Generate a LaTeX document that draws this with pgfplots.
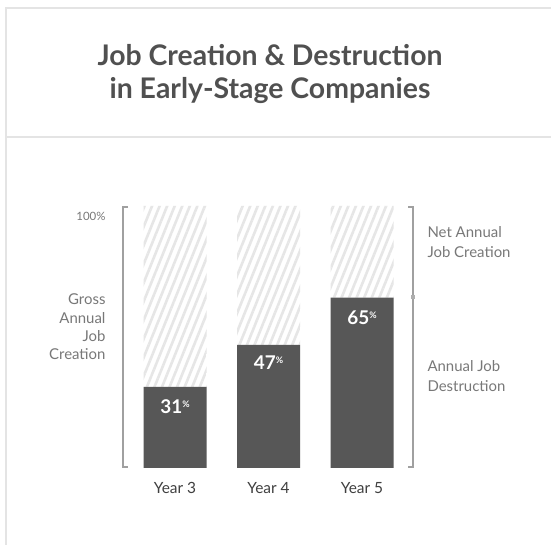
\documentclass[border=0pt]{standalone}
\usepackage{pgfplots}
\pgfplotsset{compat=1.18}
\usepackage{fontspec}
\setmainfont{Lato}
\usetikzlibrary{patterns.meta}
\definecolor{barc}{HTML}{575757}
\definecolor{hatchc}{HTML}{E6E6E6}
\definecolor{framec}{HTML}{E4E4E4}
\definecolor{titlec}{HTML}{505050}
\definecolor{labc}{HTML}{787878}
\definecolor{yearc}{HTML}{404040}
\begin{document}
\begin{tikzpicture}[x=1bp,y=1bp]
\fill[white] (0,0) rectangle (551,545);
\useasboundingbox (0,0) rectangle (551,545);
% frame
\draw[framec, line width=2bp] (6,0) -- (6,537) -- (551,537);
\draw[framec, line width=2bp] (6,408) -- (551,408);
% title
\node[text=titlec, align=center, font=\fontsize{28.5}{33}\selectfont\bfseries] at (270,471) {Job Creation \& Destruction\\in Early-Stage Companies};

\begin{axis}[
  at={(128.25bp,77bp)}, anchor=south west,
  scale only axis, width=280.5bp, height=262bp,
  xmin=-0.5, xmax=2.5, ymin=0, ymax=100,
  ybar stacked, bar width=63bp,
  axis line style={draw=none}, tick style={draw=none},
  ytick=\empty,
  xtick={0,1,2}, xticklabels={Year 3,Year 4,Year 5},
  x tick label style={font=\fontsize{15.5}{15.5}\selectfont, text=yearc, yshift=-11bp},
  clip=false,
]
\addplot[fill=barc, draw=none] coordinates {(0,31) (1,47) (2,65)};
\addplot[draw=none, pattern={Lines[angle=68, distance=7bp, line width=2.6bp]}, pattern color=hatchc]
  coordinates {(0,69) (1,53) (2,35)};
\coordinate (t0) at (axis cs:0,31);
\coordinate (t1) at (axis cs:1,47);
\coordinate (t2) at (axis cs:2,65);
\end{axis}
\node[text=white, font=\fontsize{19}{19}\selectfont\bfseries] at ([yshift=-20bp]t0) {31\raisebox{6bp}{\fontsize{9}{9}\selectfont\%}};
\node[text=white, font=\fontsize{19}{19}\selectfont\bfseries] at ([yshift=-18bp]t1) {47\raisebox{6bp}{\fontsize{9}{9}\selectfont\%}};
\node[text=white, font=\fontsize{19}{19}\selectfont\bfseries] at ([yshift=-20bp]t2) {65\raisebox{6bp}{\fontsize{9}{9}\selectfont\%}};

% left bracket
\draw[labc!70, line width=1.2bp] (128,338) -- (123,338) -- (123,78) -- (128,78);
% right bracket
\draw[labc!70, line width=1.2bp] (408,338) -- (413,338) -- (413,78) -- (408,78);
\fill[labc!60] (411,245.5) rectangle (415,249.5);
% left labels
\node[anchor=east, text=labc, font=\fontsize{11.5}{11.5}\selectfont] at (109,329) {100\%};
\node[anchor=east, text=labc, align=right, font=\fontsize{15}{18.5}\selectfont] at (109,218) {Gross\\Annual\\Job\\Creation};
% right labels
\node[anchor=west, text=labc, align=left, font=\fontsize{15}{19.5}\selectfont] at (424,303) {Net Annual\\Job Creation};
\node[anchor=west, text=labc, align=left, font=\fontsize{15}{19.5}\selectfont] at (424,169) {Annual Job\\Destruction};
\end{tikzpicture}
\end{document}
